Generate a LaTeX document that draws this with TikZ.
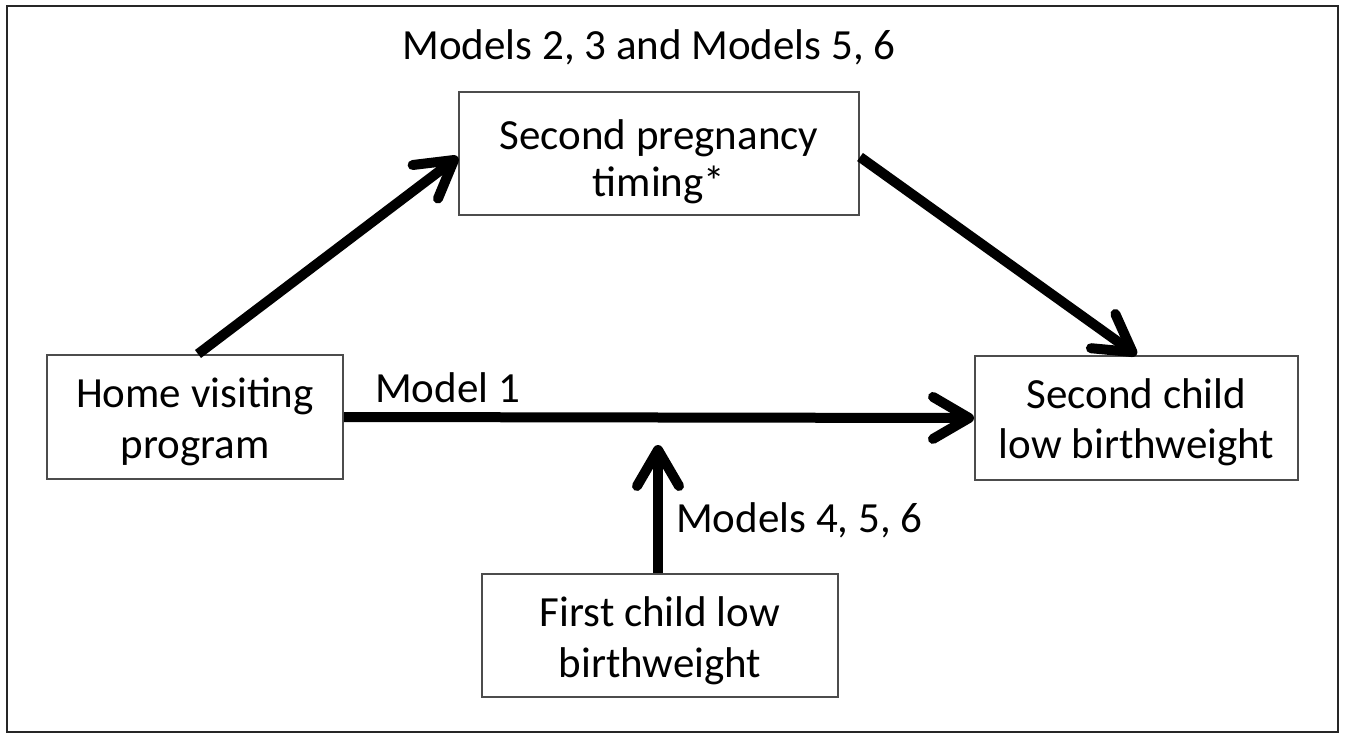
\documentclass[tikz,border=0pt]{standalone}
\usepackage{fontspec}
\setmainfont{Carlito}
\usetikzlibrary{arrows.meta}
\newcommand{\fstrut}[1]{\rule{0pt}{#1}}
\tikzset{
  box/.style={draw=black!70, line width=2pt, fill=white, align=center, inner sep=0pt,
    font=\fontsize{43}{43}\selectfont},
  lbl/.style={inner sep=0pt, font=\fontsize{43}{43}\selectfont},
  conn/.style={line width=10pt, draw=black,
    -{Straight Barb[length=36pt,width=42pt,line cap=round,line join=round]}},
}
\begin{document}
\begin{tikzpicture}[x=1pt,y=-1pt]
\useasboundingbox (0,0) rectangle (1346,735);
\draw[line width=2.5pt, black!85] (7,6) rectangle (1338,732);
\node[box, minimum width=296pt, minimum height=124pt] (home) at (195,417) {\fstrut{39pt}Home visiting\\[8pt]program};
\node[box, minimum width=400pt, minimum height=123pt] (preg) at (659,153.5) {\fstrut{46pt}Second pregnancy\\[4pt]timing*};
\node[box, minimum width=323pt, minimum height=124pt] (child2) at (1136.5,418) {\fstrut{39pt}Second child\\[7pt]low birthweight};
\node[box, minimum width=356pt, minimum height=123pt] (child1) at (660,635.5) {\fstrut{41pt}First child low\\[8pt]birthweight};
\coordinate (mid) at (658,445);
\node[lbl, anchor=base] (top) at (649,60) {Models 2, 3 and Models 5, 6};
\node[lbl, anchor=base west] (m1) at (375,402) {Model 1};
\node[lbl, anchor=base west] (m4) at (676,532) {Models 4, 5, 6};
\draw[conn] ([xshift=3pt]home.north) -- ([yshift=-3.5pt]preg.west);
\draw[conn] ([yshift=-3.5pt]preg.east) -- (child2.north);
\draw[conn] (home.east) -- (child2.west);
\draw[conn] (child1.north -| mid) -- (mid);
\end{tikzpicture}
\end{document}
